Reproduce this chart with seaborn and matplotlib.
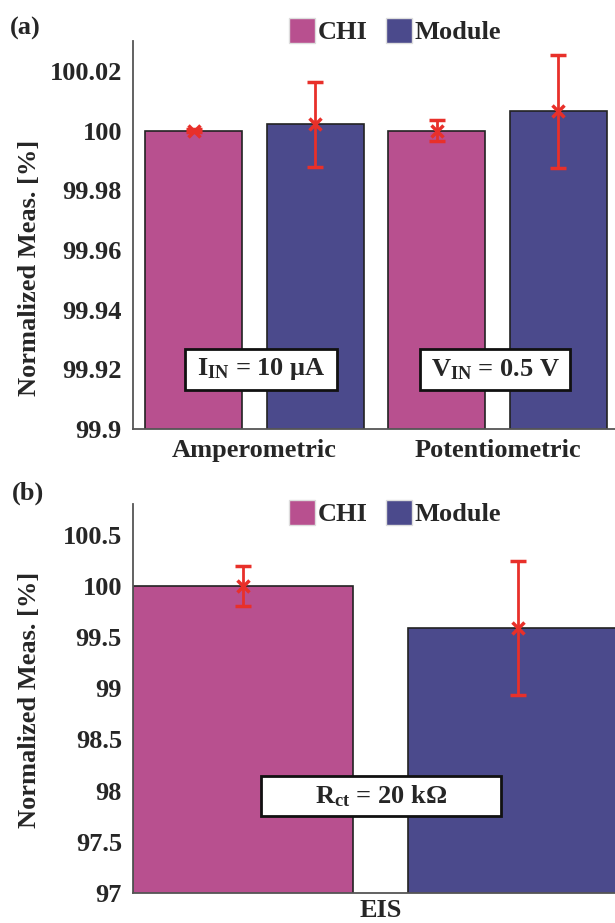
import matplotlib
matplotlib.use("Agg")
import matplotlib.pyplot as plt
from matplotlib.patches import Patch, Rectangle
import pandas as pd
import seaborn as sns

# panel (a)
a_bars = ["Amp CHI", "Amp Module", "Pot CHI", "Pot Module"]
a_source = ["CHI", "Module", "CHI", "Module"]
a_mean = [100.0, 100.0021, 100.0, 100.0064]
a_err = [0.0005, 0.0142, 0.0034, 0.0189]
a_groups = ["Amperometric", "Potentiometric"]
a_yticks = [99.9, 99.92, 99.94, 99.96, 99.98, 100.0, 100.02]
a_ylabels = ["99.9", "99.92", "99.94", "99.96", "99.98", "100", "100.02"]

# panel (b)
b_bars = ["EIS CHI", "EIS Module"]
b_source = ["CHI", "Module"]
b_mean = [100.0, 99.59]
b_err = [0.195, 0.655]
b_groups = ["EIS"]
b_yticks = [97.0, 97.5, 98.0, 98.5, 99.0, 99.5, 100.0, 100.5]
b_ylabels = ["97", "97.5", "98", "98.5", "99", "99.5", "100", "100.5"]

colors = {"CHI": "#B8508F", "Module": "#4B4A8C"}
red = "#E8302A"
W, H = 615, 923

sns.set_theme(style="white")
plt.rcParams["font.family"] = ["Liberation Serif", "DejaVu Serif"]
plt.rcParams["font.weight"] = "bold"
plt.rcParams["mathtext.fontset"] = "custom"
plt.rcParams["mathtext.rm"] = "Liberation Serif:bold"
plt.rcParams["mathtext.it"] = "Liberation Serif:bold"
plt.rcParams["mathtext.bf"] = "Liberation Serif:bold"
FS = 19

fig = plt.figure(figsize=(W / 100, H / 100), dpi=100)


def px(x, y):
    return x / W, 1 - y / H


def panel(rect, bars, source, mean, err, groups, yticks, ylabels, ylim, xlim, group_pos, pad):
    ax = fig.add_axes(rect)
    df = pd.DataFrame({"bar": bars, "source": source, "value": mean})
    sns.barplot(data=df, x="bar", y="value", hue="source", palette=colors,
                dodge=False, width=0.8, saturation=1, edgecolor="#222222",
                linewidth=1.2, legend=False, ax=ax)
    ax.errorbar(range(len(bars)), mean, yerr=err, fmt="x", color=red,
                ecolor=red, elinewidth=2, capsize=6, capthick=3.5,
                markersize=9, mew=2.5, zorder=5)
    ax.set_ylim(*ylim)
    ax.set_xlim(*xlim)
    ax.set_yticks(yticks)
    ax.set_yticklabels(ylabels, fontsize=FS, fontweight="bold")
    ax.set_xticks(range(len(bars)))
    ax.set_xticklabels([""] * len(bars))
    ax.set_xticks(group_pos, minor=True)
    ax.set_xticklabels(groups, minor=True, fontsize=FS, fontweight="bold")
    ax.tick_params(axis="x", which="minor", length=0, pad=pad)
    ax.tick_params(axis="x", which="major", length=5, width=1.3, color="#555555", direction="out")
    ax.tick_params(axis="y", length=6, width=1.3, color="#555555", direction="out", pad=2)
    ax.set_xlabel("")
    ax.set_ylabel("")
    for s in ["top", "right"]:
        ax.spines[s].set_visible(False)
    for s in ["left", "bottom"]:
        ax.spines[s].set_color("#555555")
        ax.spines[s].set_linewidth(1.3)
    return ax


ax_a = panel([133 / W, 1 - 429 / H, 486 / W, 388 / H], a_bars, a_source, a_mean, a_err,
             a_groups, a_yticks, a_ylabels, (99.9, 100.03), (-0.5, 3.5), [0.5, 2.5], 7)
ax_b = panel([133 / W, 1 - 893 / H, 495 / W, 389 / H], b_bars, b_source, b_mean, b_err,
             b_groups, b_yticks, b_ylabels, (97.0, 100.8), (-0.4, 1.4), [0.5], 4)

handles = [Patch(facecolor=colors[k], edgecolor="#dddddd", label=k) for k in ["CHI", "Module"]]
for yc in [31, 513]:
    fig.legend(handles=handles, loc="center", bbox_to_anchor=px(395, yc), ncol=2,
               frameon=False, fontsize=FS, handlelength=1.0, handleheight=1.1,
               handletextpad=0.1, columnspacing=0.7, prop={"weight": "bold", "size": FS})

fig.text(*px(10, 28), "(a)", fontsize=FS, fontweight="bold", ha="left", va="center")
fig.text(*px(12, 493), "(b)", fontsize=FS, fontweight="bold", ha="left", va="center")
fig.text(*px(30, 268), "Normalized Meas. [%]", fontsize=FS, fontweight="bold",
         rotation=90, ha="center", va="center")
fig.text(*px(30, 700), "Normalized Meas. [%]", fontsize=FS, fontweight="bold",
         rotation=90, ha="center", va="center")

boxes = [
    ((185, 349, 337, 390), r"I$_{\mathrm{IN}}$ = 10 μA"),
    ((420, 349, 570, 390), r"V$_{\mathrm{IN}}$ = 0.5 V"),
    ((261, 776, 501, 816), r"R$_{\mathrm{ct}}$ = 20 kΩ"),
]
for (x0, y0, x1, y1), label in boxes:
    fx, fy = px(x0, y1)
    fig.add_artist(Rectangle((fx, fy), (x1 - x0) / W, (y1 - y0) / H,
                             transform=fig.transFigure, facecolor="white",
                             edgecolor="#111111", linewidth=2, zorder=10))
    fig.text(*px((x0 + x1) / 2, (y0 + y1) / 2), label, fontsize=FS, fontweight="bold",
             ha="center", va="center", zorder=11)

fig.savefig("out.png", dpi=100)
